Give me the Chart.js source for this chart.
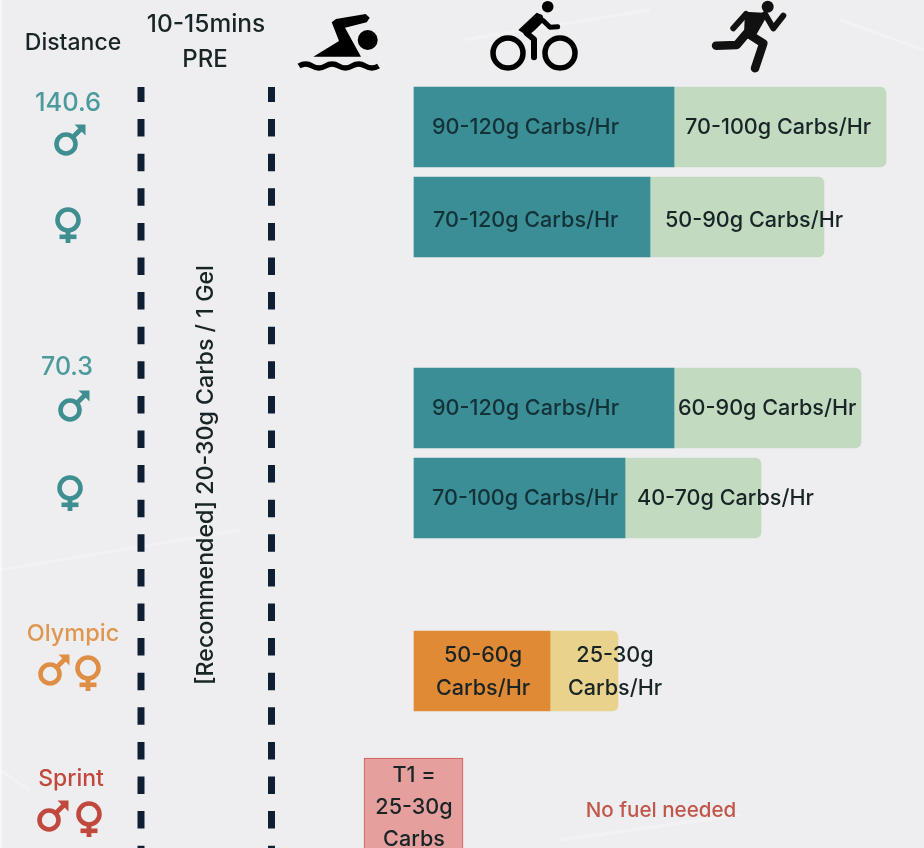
<!DOCTYPE html>
<html>
<head>
<meta charset="utf-8">
<title>Triathlon fuelling by distance</title>
<script src="https://cdn.jsdelivr.net/npm/chart.js@4/dist/chart.umd.min.js"></script>
<style>
    html, body { margin:0; padding:0; background:#eeeef0; overflow:hidden; }
    canvas { display:block; }
</style>
</head>
<body>
<canvas id="fuelChart" width="924" height="848"></canvas>
<script>
// ---------- data ----------
const rows = ['140.6 men', '140.6 women', '70.3 men', '70.3 women', 'Olympic'];
const bikeLength = [260, 236, 260, 211, 136];
const runLength = [212, 174, 187, 136, 68];
const bikeLabels = ['90-120g Carbs/Hr', '70-120g Carbs/Hr', '90-120g Carbs/Hr', '70-100g Carbs/Hr', '50-60g\nCarbs/Hr'];
const runLabels = ['70-100g Carbs/Hr', '50-90g Carbs/Hr', '60-90g Carbs/Hr', '40-70g Carbs/Hr', '25-30g\nCarbs/Hr'];
const sprintT1 = [-50, 49];

// ---------- layout ----------
const rowCentres = [127, 217, 408, 498, 671];
const labelShift = [0, 3, 0, 0, 1];
const sprintCentre = 813;
const preLinesX = [-273, -142.5];
const barHeight = 80;
const TEAL = '#3b8e95', GREEN = '#c2dac0', ORANGE = '#e08a35', YELLOW = '#e8d28c';
const INK = '#182426', FONT = 'Inter, "Liberation Sans", sans-serif';

const bikeBars = rows.map((_, i) => ({ x: [0, bikeLength[i]], y: rowCentres[i] }));
const runBars = rows.map((_, i) => ({ x: [bikeLength[i], bikeLength[i] + runLength[i]], y: rowCentres[i] }));
const preLine = x => ({
    type: 'scatter', data: [{ x: x, y: 87 }, { x: x, y: 848 }], showLine: true, pointRadius: 0,
    borderColor: '#0f1f33', borderWidth: 7, borderDash: [17.5, 17.1], borderDashOffset: 2.5
});

function text(ctx, str, x, y, size, color, align) {
    ctx.font = `500 ${size}px ${FONT}`;
    ctx.fillStyle = color;
    ctx.textAlign = align || 'center';
    ctx.textBaseline = 'middle';
    ctx.fillText(str, x, y);
}

function polyline(ctx, pts, width, color) {
    ctx.beginPath();
    pts.forEach((p, i) => i ? ctx.lineTo(p[0], p[1]) : ctx.moveTo(p[0], p[1]));
    ctx.lineWidth = width;
    ctx.strokeStyle = color;
    ctx.lineCap = 'round';
    ctx.lineJoin = 'round';
    ctx.stroke();
}

function polygon(ctx, pts, color) {
    ctx.beginPath();
    pts.forEach((p, i) => i ? ctx.lineTo(p[0], p[1]) : ctx.moveTo(p[0], p[1]));
    ctx.closePath();
    ctx.fillStyle = color;
    ctx.fill();
}

function disc(ctx, x, y, r, color) {
    ctx.beginPath();
    ctx.arc(x, y, r, 0, Math.PI * 2);
    ctx.fillStyle = color;
    ctx.fill();
}

function ring(ctx, x, y, r, width, color) {
    ctx.beginPath();
    ctx.arc(x, y, r, 0, Math.PI * 2);
    ctx.lineWidth = width;
    ctx.strokeStyle = color;
    ctx.stroke();
}

function maleSign(ctx, x, y, color) {
    ring(ctx, x, y, 9.5, 4.6, color);
    ctx.lineCap = 'butt';
    ctx.beginPath();
    ctx.moveTo(x + 6, y - 6);
    ctx.lineTo(x + 16, y - 16);
    ctx.lineWidth = 4.6;
    ctx.strokeStyle = color;
    ctx.stroke();
    polygon(ctx, [[x + 8.5, y - 19.5], [x + 19.5, y - 19.5], [x + 19.5, y - 8.5]], color);
}

function femaleSign(ctx, x, y, color) {
    ring(ctx, x, y, 10.5, 4.6, color);
    ctx.fillStyle = color;
    ctx.fillRect(x - 2.4, y + 11, 4.8, 12);
    ctx.fillRect(x - 8.5, y + 14.5, 17, 4.6);
}

function drawSwimmer(ctx) {
    disc(ctx, 367.7, 40, 10, '#000');
    polygon(ctx, [[331.7, 22.3], [336, 19], [365.7, 14], [369.7, 17.7], [366.7, 22.3], [345, 27.7], [361, 56.7], [313.3, 56.7], [339, 41]], '#000');
    ctx.beginPath();
    ctx.moveTo(299, 66);
    for (let i = 0; i < 3; i++) {
        const x = 299 + i * 26.5;
        ctx.quadraticCurveTo(x + 6.6, 62, x + 13.2, 66);
        ctx.quadraticCurveTo(x + 19.9, 70, x + 26.5, 66);
    }
    ctx.lineWidth = 5.5;
    ctx.lineCap = 'butt';
    ctx.strokeStyle = '#000';
    ctx.stroke();
}

function drawCyclist(ctx) {
    disc(ctx, 547.7, 6.7, 5.8, '#000');
    ring(ctx, 508, 53, 15, 5.5, '#000');
    ring(ctx, 560, 53, 15, 5.5, '#000');
    polygon(ctx, [[518.3, 30], [536.7, 12.7], [542.3, 15], [544.3, 20.7], [535, 30], [527.7, 36]], '#000');
    polyline(ctx, [[543.3, 20.7], [550, 27.3], [557.7, 26.7]], 5, '#000');
    polyline(ctx, [[526.7, 33.3], [534, 39.3], [534, 57.3]], 6, '#000');
}

function drawRunner(ctx) {
    disc(ctx, 767.7, 6.7, 6, '#111');
    polygon(ctx, [[745, 11.7], [763.3, 12.7], [767, 16], [755, 37], [744, 33]], '#111');
    polyline(ctx, [[746, 14], [733.3, 28.3]], 6, '#111');
    polyline(ctx, [[765, 14], [773.3, 28.3], [783.3, 15.7]], 6, '#111');
    polyline(ctx, [[746.7, 33.3], [736.7, 45], [716, 45.7]], 8.5, '#111');
    polyline(ctx, [[750, 35], [763.3, 43.3], [755, 68.3]], 8.5, '#111');
}

// paper backdrop with a few faint creases
const paper = {
    id: 'paper',
    beforeDraw(chart) {
        const ctx = chart.ctx;
        ctx.save();
        ctx.fillStyle = '#eeeef0';
        ctx.fillRect(0, 0, chart.width, chart.height);
        ctx.fillStyle = '#f7f7f8';
        ctx.fillRect(0, 0, 2, chart.height);
        ctx.strokeStyle = 'rgba(255,255,255,0.28)';
        ctx.lineWidth = 3;
        [[462, 40, 650, 10], [840, 20, 924, 50], [0, 570, 240, 530], [560, 840, 740, 815], [0, 770, 30, 790]].forEach(s => {
            ctx.beginPath();
            ctx.moveTo(s[0], s[1]);
            ctx.lineTo(s[2], s[3]);
            ctx.stroke();
        });
        ctx.restore();
    }
};

// headings, gender signs, activity icons and the texts sitting on the bars
const annotations = {
    id: 'annotations',
    afterDatasetsDraw(chart) {
        const ctx = chart.ctx;
        ctx.save();

        text(ctx, 'Distance', 73, 43, 23, INK);
        text(ctx, '10-15mins', 206, 25, 24.5, INK);
        text(ctx, 'PRE', 205, 60, 24, INK);
        drawSwimmer(ctx);
        drawCyclist(ctx);
        drawRunner(ctx);

        const tealText = '#4b9a9c', orangeText = '#df9650', redText = '#c0483c';
        text(ctx, '140.6', 68, 103, 25.5, tealText);
        maleSign(ctx, 66, 144, '#3f8f92');
        femaleSign(ctx, 68, 220, '#3f8f92');
        text(ctx, '70.3', 67, 367, 25, tealText);
        maleSign(ctx, 70, 410, '#3f8f92');
        femaleSign(ctx, 70, 488, '#3f8f92');
        text(ctx, 'Olympic', 73, 634, 23.5, orangeText);
        maleSign(ctx, 50, 674, '#df8f45');
        femaleSign(ctx, 88, 668, '#df8f45');
        text(ctx, 'Sprint', 71, 779, 23, redText);
        maleSign(ctx, 49, 820, '#c0483c');
        femaleSign(ctx, 89, 814, '#c0483c');

        ctx.save();
        ctx.translate(206, 475);
        ctx.rotate(-Math.PI / 2);
        text(ctx, '[Recommended] 20-30g Carbs / 1 Gel', 0, 0, 23.2, INK);
        ctx.restore();

        const bike = chart.getDatasetMeta(0).data;
        const run = chart.getDatasetMeta(1).data;
        const bikeInset = [18, 19, 18, 18];
        const runInset = [11, 15, 4, 12];
        rows.forEach((_, i) => {
            const y = bike[i].y + labelShift[i];
            if (i < 4) {
                text(ctx, bikeLabels[i], bike[i].base + bikeInset[i], y, 21.6, '#133238', 'left');
                text(ctx, runLabels[i], run[i].base + runInset[i], y, 21.6, INK, 'left');
            } else {
                bikeLabels[i].split('\n').forEach((s, k) => text(ctx, s, 483, y - 17 + k * 33, 21.6, INK));
                runLabels[i].split('\n').forEach((s, k) => text(ctx, s, 615, y - 17 + k * 33, 21.6, INK));
            }
        });

        ['T1 =', '25-30g', 'Carbs'].forEach((s, k) => text(ctx, s, 414, 775 + k * 32, 21.6, INK));
        text(ctx, 'No fuel needed', 661, 811, 20.6, '#c0574a');
        ctx.restore();
    }
};

new Chart(document.getElementById('fuelChart'), {
    type: 'bar',
    data: {
        datasets: [
            { label: 'Bike', data: bikeBars, backgroundColor: [TEAL, TEAL, TEAL, TEAL, ORANGE], grouped: false, barThickness: barHeight, borderRadius: 0 },
            { label: 'Run', data: runBars, backgroundColor: [GREEN, GREEN, GREEN, GREEN, YELLOW], grouped: false, barThickness: barHeight,
              borderRadius: { topLeft: 0, bottomLeft: 0, topRight: 6, bottomRight: 6 }, borderSkipped: false },
            { label: 'T1', data: [{ x: sprintT1, y: sprintCentre }], backgroundColor: '#e5a09e', borderColor: '#cc5a50', borderWidth: 1,
              borderSkipped: false, grouped: false, barThickness: 110 },
            preLine(preLinesX[0]),
            preLine(preLinesX[1])
        ]
    },
    options: {
        indexAxis: 'y',
        responsive: false,
        animation: false,
        layout: { padding: 0 },
        plugins: { legend: { display: false }, tooltip: { enabled: false }, title: { display: false } },
        scales: {
            x: { type: 'linear', min: -414, max: 510, display: false },
            y: { type: 'linear', min: 0, max: 848, reverse: true, offset: false, display: false }
        }
    },
    plugins: [paper, annotations]
});
</script>
</body>
</html>
